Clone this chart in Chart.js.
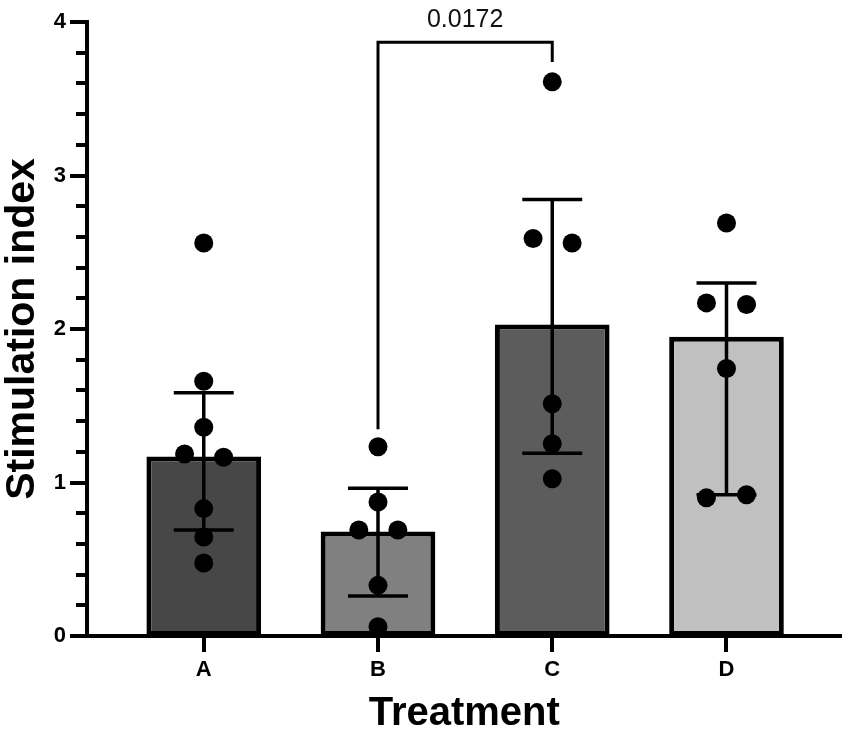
<!DOCTYPE html>
<html><head><meta charset="utf-8">
<script src="https://cdn.jsdelivr.net/npm/chart.js@4.4.1/dist/chart.umd.min.js"></script>
<style>html,body{margin:0;padding:0;background:#fff;} canvas{display:block;}</style>
</head><body>
<canvas id="c" width="851" height="736"></canvas>
<script>
// ---- data ----
const categories = ['A', 'B', 'C', 'D'];
const barValues  = [1.17, 0.68, 2.03, 1.95];
const errLow     = [0.69, 0.26, 1.19, 0.92];
const errHigh    = [1.585, 0.962, 2.844, 2.30];
const barColors  = ['#474747', '#808080', '#5c5c5c', '#c0c0c0'];

const pointsA = [2.56, 1.66, 1.36, 1.186, 1.164, 0.83, 0.645, 0.476];
const jitterA = [0, 0, 0, -0.11, 0.114, 0, 0, 0];
const pointsB = [1.233, 0.873, 0.69, 0.69, 0.33, 0.06];
const jitterB = [0, 0, -0.11, 0.114, 0, 0];
const pointsC = [3.61, 2.59, 2.56, 1.513, 1.253, 1.024];
const jitterC = [0, -0.11, 0.114, 0, 0, 0];
const pointsD = [2.69, 2.17, 2.16, 1.743, 0.90, 0.92];
const jitterD = [0, -0.115, 0.115, 0, -0.115, 0.115];

const yTickLabels = ['0', '1', '2', '3', '4'];
const pValueText = '0.0172';
const bracketFrom = 1, bracketTo = 2;
const bracketTop = 3.868, bracketLegFrom = 1.347, bracketLegTo = 3.739;

// ---- build ----
const FONT = '"Liberation Sans", Arial, Helvetica, sans-serif';
const groups = [pointsA, pointsB, pointsC, pointsD];
const jitters = [jitterA, jitterB, jitterC, jitterD];
const scatterData = [];
groups.forEach((g, i) => g.forEach((v, k) => scatterData.push({x: i + jitters[i][k], y: v})));
const barData = categories.map((c, i) => ({x: i, y: barValues[i]}));
const bracketData = [
  {x: bracketFrom, y: bracketLegFrom},
  {x: bracketFrom, y: bracketTop},
  {x: bracketTo, y: bracketTop},
  {x: bracketTo, y: bracketLegTo}
];
const capHalf = 0.172;
const isMajor = (v) => Number.isInteger(Math.round(v * 1000) / 1000);

const errorBarPlugin = {
  id: 'errbars',
  afterDatasetsDraw(chart) {
    const {ctx, scales: {x, y}} = chart;
    ctx.save();
    ctx.strokeStyle = '#000';
    ctx.lineWidth = 3.5;
    categories.forEach((c, i) => {
      const px = x.getPixelForValue(i);
      const pl = x.getPixelForValue(i - capHalf), pr = x.getPixelForValue(i + capHalf);
      const yl = y.getPixelForValue(errLow[i]), yh = y.getPixelForValue(errHigh[i]);
      ctx.beginPath();
      ctx.moveTo(px, yl); ctx.lineTo(px, yh);
      ctx.moveTo(pl, yl); ctx.lineTo(pr, yl);
      ctx.moveTo(pl, yh); ctx.lineTo(pr, yh);
      ctx.stroke();
    });
    ctx.fillStyle = '#111';
    ctx.font = '25px ' + FONT;
    ctx.textAlign = 'center';
    ctx.textBaseline = 'alphabetic';
    ctx.fillText(pValueText, x.getPixelForValue((bracketFrom + bracketTo) / 2), y.getPixelForValue(bracketTop) - 15);
    ctx.restore();
  }
};

new Chart(document.getElementById('c'), {
  type: 'bar',
  data: {
    datasets: [
      {
        type: 'scatter', data: scatterData, order: 1,
        pointRadius: 9.5, pointBackgroundColor: '#000', pointBorderWidth: 0,
        showLine: false, clip: false
      },
      {
        type: 'line', data: bracketData, order: 2,
        borderColor: '#000', borderWidth: 3, pointRadius: 0, tension: 0, fill: false
      },
      {
        type: 'bar', data: barData, order: 3,
        backgroundColor: barColors, borderColor: '#000', borderWidth: 5,
        categoryPercentage: 1, barPercentage: 0.658, borderSkipped: false
      }
    ]
  },
  options: {
    responsive: false,
    animation: false,
    layout: {padding: {top: 22, right: 8, left: 0, bottom: 0}},
    plugins: {legend: {display: false}, tooltip: {enabled: false}},
    scales: {
      x: {
        type: 'linear', min: -0.67, max: 3.66, offset: false,
        afterBuildTicks: (s) => { s.ticks = s.ticks.filter(t => Number.isInteger(t.value) && t.value >= 0 && t.value < categories.length); },
        afterFit: (s) => { s.height = 100; },
        ticks: {
          stepSize: 1, autoSkip: false, maxRotation: 0,
          callback: (v) => categories[v] ?? '',
          font: {family: FONT, size: 22, weight: 'bold'}, color: '#000', padding: 5
        },
        grid: {display: true, offset: false, drawOnChartArea: false, drawTicks: true, tickLength: 16, tickWidth: 4, tickColor: '#000', lineWidth: 0},
        border: {display: true, color: '#000', width: 4},
        title: {display: true, text: 'Treatment', color: '#000', font: {family: FONT, size: 40, weight: 'bold', lineHeight: 1.1}, padding: {top: 0, bottom: 0}}
      },
      y: {
        min: 0, max: 4,
        afterFit: (s) => { s.width = 87; },
        ticks: {
          stepSize: 0.2, autoSkip: false,
          callback: (v) => isMajor(v) ? yTickLabels[Math.round(v)] : '',
          font: {family: FONT, size: 22, weight: 'bold'}, color: '#000', padding: 4
        },
        grid: {
          display: true, drawOnChartArea: false, drawTicks: true, tickLength: 17, tickWidth: 4, tickColor: '#000', lineWidth: 0,
          tickBorderDash: (ctx) => (ctx.tick && isMajor(ctx.tick.value)) ? [] : [0, 6, 40]
        },
        border: {display: true, color: '#000', width: 4},
        title: {display: true, text: 'Stimulation index', color: '#000', font: {family: FONT, size: 41, weight: 'bold', lineHeight: 1.1}, padding: {top: 0, bottom: 0}}
      }
    }
  },
  plugins: [errorBarPlugin]
});
</script>
</body></html>
